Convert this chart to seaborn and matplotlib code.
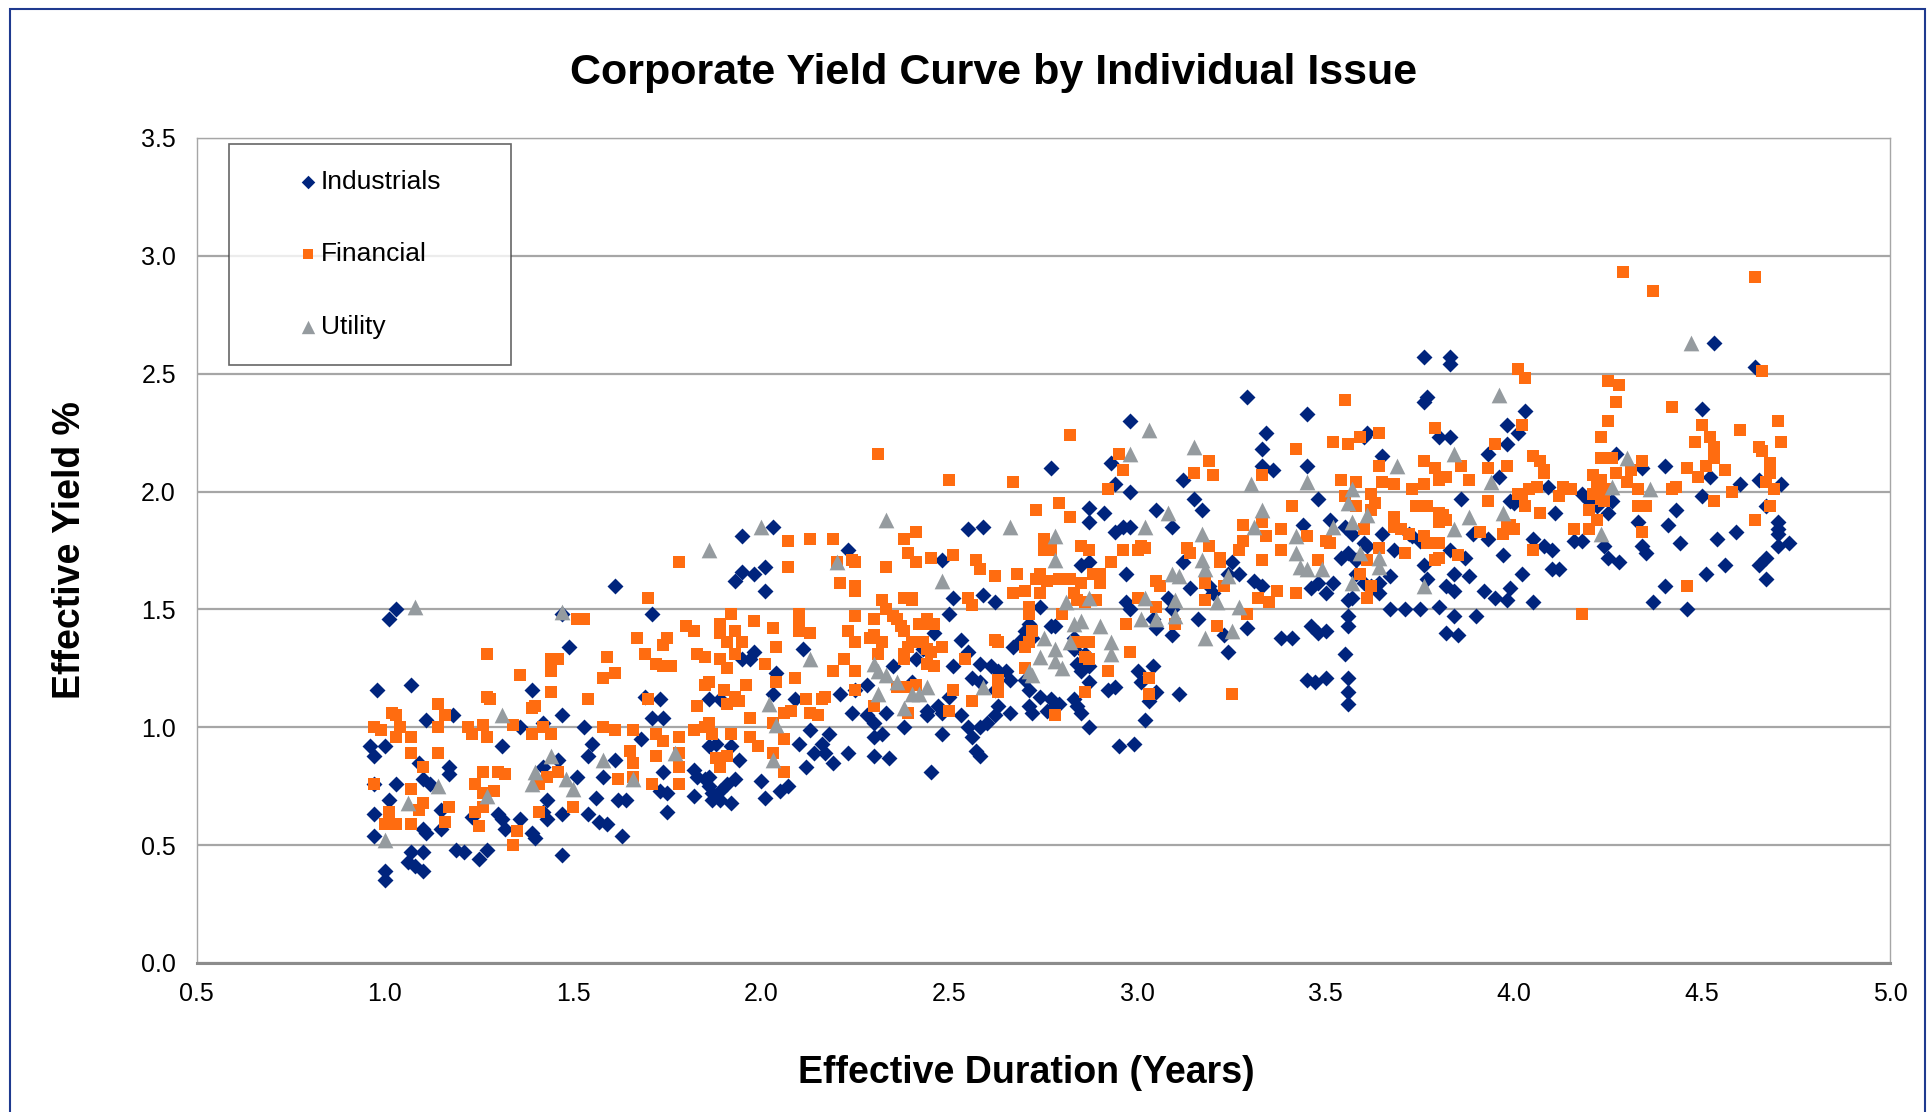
import matplotlib
matplotlib.use("Agg")
import matplotlib.pyplot as plt
import seaborn as sns
import pandas as pd
from matplotlib.patches import Rectangle

# (duration, yield) pairs per sector
ind_pts = [
    (1.03, 1.50), (1.01, 1.46), (0.98, 1.16), (1.07, 1.18), (1.11, 1.03), (1.18, 1.05), (0.96, 0.92),
    (0.97, 0.88), (1.00, 0.92), (1.03, 0.76), (0.97, 0.76), (1.01, 0.69), (0.97, 0.63), (0.97, 0.54),
    (1.00, 0.39), (1.00, 0.35), (1.07, 0.47), (1.06, 0.43), (1.10, 0.47), (1.08, 0.41), (1.10, 0.39),
    (1.10, 0.78), (1.12, 0.76), (1.09, 0.85), (1.17, 0.83), (1.17, 0.80), (1.10, 0.57), (1.11, 0.55),
    (1.15, 0.57), (1.15, 0.65), (1.19, 0.48), (1.21, 0.47), (1.25, 0.44), (1.27, 0.48), (1.23, 0.62),
    (1.31, 0.92), (1.30, 0.63), (1.31, 0.61), (1.32, 0.57), (1.36, 1.00), (1.36, 0.61), (1.39, 0.55),
    (1.40, 0.53), (1.42, 1.02), (1.39, 1.16), (1.47, 1.48), (1.49, 1.34), (1.47, 1.05), (1.47, 0.46),
    (1.43, 0.69), (1.42, 0.64), (1.43, 0.61), (1.42, 0.83), (1.46, 0.86), (1.51, 0.79), (1.47, 0.63),
    (1.53, 1.00), (1.55, 0.93), (1.54, 0.88), (1.54, 0.63), (1.57, 0.60), (1.59, 0.59), (1.56, 0.70),
    (1.58, 0.79), (1.61, 0.86), (1.62, 0.69), (1.64, 0.69), (1.63, 0.54), (1.61, 1.60), (1.71, 1.48),
    (1.68, 0.95), (1.69, 1.13), (1.73, 1.12), (1.71, 1.04), (1.74, 1.04), (1.74, 0.81), (1.73, 0.73),
    (1.75, 0.72), (1.75, 0.64), (1.82, 0.82), (1.82, 0.71), (1.83, 0.79), (1.85, 0.78), (1.86, 0.79),
    (1.86, 0.75), (1.87, 0.72), (1.89, 0.73), (1.87, 0.69), (1.89, 0.69), (1.92, 0.68), (1.91, 0.76),
    (1.93, 0.78), (1.86, 1.12), (1.89, 1.12), (1.86, 0.92), (1.88, 0.93), (1.92, 0.92), (1.94, 0.86),
    (1.95, 1.29), (1.97, 1.29), (1.98, 1.32), (1.95, 1.81), (1.95, 1.66), (1.93, 1.62), (1.98, 1.65),
    (2.00, 0.77), (2.03, 1.85), (2.01, 1.68), (2.01, 1.58), (2.11, 1.33), (2.04, 1.23), (2.03, 1.14),
    (2.09, 1.12), (2.23, 1.75), (2.21, 1.14), (2.13, 0.99), (2.18, 0.97), (2.16, 0.93), (2.10, 0.93),
    (2.17, 0.89), (2.14, 0.89), (2.12, 0.83), (2.19, 0.85), (2.23, 0.89), (2.01, 0.70), (2.05, 0.73),
    (2.07, 0.75), (2.30, 0.88), (2.34, 0.87), (2.25, 1.16), (2.28, 1.18), (2.24, 1.06), (2.28, 1.05),
    (2.30, 1.02), (2.32, 0.97), (2.30, 0.96), (2.38, 1.00), (2.33, 1.06), (2.35, 1.26), (2.40, 1.19),
    (2.41, 1.29), (2.43, 1.33), (2.46, 1.40), (2.44, 1.07), (2.47, 1.09), (2.44, 1.05), (2.48, 1.06),
    (2.50, 1.13), (2.48, 0.97), (2.45, 0.81), (2.51, 1.26), (2.50, 1.48), (2.51, 1.55), (2.53, 1.37),
    (2.55, 1.32), (2.56, 1.21), (2.58, 1.19), (2.58, 1.27), (2.55, 1.00), (2.56, 0.96), (2.57, 0.90),
    (2.58, 0.88), (2.53, 1.05), (2.55, 1.84), (2.59, 1.85), (2.48, 1.71), (2.59, 1.56), (2.62, 1.53),
    (2.61, 1.26), (2.63, 1.24), (2.66, 1.20), (2.65, 1.24), (2.62, 1.16), (2.63, 1.09), (2.62, 1.05),
    (2.66, 1.06), (2.60, 1.02), (2.58, 1.00), (2.71, 1.44), (2.70, 1.41), (2.69, 1.37), (2.67, 1.34),
    (2.72, 1.38), (2.70, 1.20), (2.71, 1.16), (2.74, 1.13), (2.71, 1.09), (2.72, 1.06), (2.76, 1.07),
    (2.74, 1.51), (2.77, 1.43), (2.78, 1.43), (2.77, 2.10), (2.87, 1.93), (2.87, 1.87), (2.91, 1.91),
    (2.94, 2.03), (2.93, 2.12), (2.98, 2.00), (2.96, 1.85), (2.94, 1.83), (2.98, 1.85), (2.85, 1.69),
    (2.87, 1.70), (2.97, 1.65), (2.83, 1.38), (2.83, 1.33), (2.86, 1.31), (2.84, 1.27), (2.87, 1.26),
    (2.85, 1.24), (2.87, 1.19), (2.83, 1.12), (2.84, 1.09), (2.85, 1.06), (2.87, 1.00), (2.92, 1.16),
    (2.94, 1.17), (2.95, 0.92), (2.97, 1.53), (2.98, 1.50), (2.99, 0.93), (2.77, 1.12), (2.78, 1.09),
    (2.79, 1.10), (2.98, 2.30), (3.05, 1.92), (3.09, 1.85), (3.12, 2.05), (3.15, 1.97), (3.17, 1.92),
    (3.29, 2.40), (3.34, 2.25), (3.33, 2.18), (3.33, 2.11), (3.36, 2.09), (3.45, 2.33), (3.45, 2.11),
    (3.48, 1.97), (3.44, 1.86), (3.51, 1.88), (3.55, 1.85), (3.57, 1.82), (3.61, 2.25), (3.60, 2.23),
    (3.65, 2.15), (3.76, 2.38), (3.77, 2.40), (3.80, 2.23), (3.83, 2.23), (3.93, 2.16), (3.96, 2.06),
    (3.86, 1.97), (3.89, 1.82), (3.93, 1.80), (3.83, 1.75), (3.87, 1.72), (3.84, 1.65), (3.82, 1.60),
    (3.84, 1.58), (3.88, 1.64), (3.92, 1.58), (3.95, 1.55), (3.76, 1.69), (3.77, 1.63), (3.75, 1.50),
    (3.80, 1.51), (3.84, 1.47), (3.90, 1.47), (3.82, 1.40), (3.85, 1.39), (3.67, 1.50), (3.71, 1.50),
    (3.65, 1.82), (3.67, 1.64), (3.68, 1.75), (3.72, 1.82), (3.73, 1.81), (3.75, 1.79), (3.56, 1.74),
    (3.58, 1.71), (3.54, 1.72), (3.60, 1.78), (3.61, 1.77), (3.58, 1.65), (3.60, 1.61), (3.62, 1.60),
    (3.64, 1.57), (3.64, 1.61), (3.57, 1.55), (3.56, 1.54), (3.56, 1.47), (3.56, 1.43), (3.55, 1.31),
    (3.56, 1.21), (3.56, 1.15), (3.56, 1.10), (3.46, 1.43), (3.48, 1.40), (3.50, 1.41), (3.45, 1.20),
    (3.47, 1.19), (3.50, 1.21), (3.46, 1.59), (3.48, 1.61), (3.52, 1.61), (3.50, 1.57), (3.38, 1.38),
    (3.41, 1.38), (3.31, 1.62), (3.33, 1.60), (3.29, 1.42), (3.24, 1.65), (3.27, 1.65), (3.25, 1.70),
    (3.19, 1.60), (3.20, 1.57), (3.23, 1.39), (3.24, 1.32), (3.14, 1.59), (3.16, 1.46), (3.09, 1.39),
    (3.12, 1.70), (3.08, 1.55), (3.09, 1.50), (3.04, 1.46), (3.11, 1.14), (3.05, 1.42), (3.00, 1.24),
    (3.04, 1.26), (3.01, 1.19), (3.05, 1.15), (3.03, 1.11), (3.02, 1.03), (3.76, 2.57), (3.83, 2.54),
    (3.83, 2.57), (4.53, 2.63), (4.64, 2.53), (4.03, 2.34), (3.98, 2.28), (4.01, 2.25), (3.98, 2.20),
    (4.09, 2.02), (3.99, 1.96), (4.00, 1.95), (4.11, 1.91), (4.18, 1.99), (4.27, 2.16), (4.34, 2.10),
    (4.26, 1.96), (4.25, 1.91), (4.20, 1.96), (4.22, 1.94), (4.05, 1.80), (4.08, 1.77), (4.10, 1.75),
    (4.16, 1.79), (4.18, 1.79), (3.97, 1.73), (4.02, 1.65), (3.98, 1.54), (3.99, 1.59), (4.05, 1.53),
    (4.10, 1.67), (4.12, 1.67), (4.24, 1.77), (4.25, 1.72), (4.28, 1.70), (4.33, 1.87), (4.34, 1.77),
    (4.35, 1.74), (4.40, 2.11), (4.43, 1.92), (4.41, 1.86), (4.44, 1.78), (4.40, 1.60), (4.37, 1.53),
    (4.46, 1.50), (4.50, 2.35), (4.50, 1.98), (4.52, 2.06), (4.51, 1.65), (4.56, 1.69), (4.54, 1.80),
    (4.59, 1.83), (4.60, 2.03), (4.65, 2.05), (4.67, 1.94), (4.71, 2.03), (4.70, 1.87), (4.70, 1.84),
    (4.70, 1.82), (4.73, 1.78), (4.70, 1.77), (4.67, 1.72), (4.65, 1.69), (4.67, 1.63),
]

fin_pts = [
    (0.97, 0.76), (0.97, 1.00), (0.99, 0.99), (1.02, 1.06), (1.03, 1.05), (1.03, 0.96), (1.04, 1.00),
    (1.07, 0.96), (1.07, 0.89), (1.01, 0.64), (1.00, 0.59), (1.03, 0.59), (1.07, 0.59), (1.07, 0.74),
    (1.10, 0.83), (1.10, 0.68), (1.09, 0.65), (1.14, 1.10), (1.16, 1.05), (1.14, 1.00), (1.14, 0.89),
    (1.16, 0.60), (1.17, 0.66), (1.22, 1.00), (1.23, 0.97), (1.26, 1.01), (1.27, 0.96), (1.27, 1.31),
    (1.27, 1.13), (1.28, 1.12), (1.24, 0.76), (1.26, 0.81), (1.30, 0.81), (1.32, 0.80), (1.29, 0.73),
    (1.26, 0.72), (1.24, 0.64), (1.26, 0.66), (1.25, 0.58), (1.34, 1.01), (1.35, 0.56), (1.34, 0.50),
    (1.36, 1.22), (1.39, 1.08), (1.40, 1.09), (1.39, 0.97), (1.42, 1.00), (1.44, 0.97), (1.44, 1.29),
    (1.46, 1.29), (1.44, 1.24), (1.44, 1.15), (1.41, 0.76), (1.43, 0.79), (1.46, 0.81), (1.41, 0.64),
    (1.50, 0.66), (1.51, 1.46), (1.53, 1.46), (1.54, 1.12), (1.58, 1.21), (1.61, 1.23), (1.59, 1.30),
    (1.58, 1.00), (1.61, 0.99), (1.66, 0.99), (1.65, 0.90), (1.66, 0.85), (1.62, 0.78), (1.66, 0.79),
    (1.67, 1.38), (1.69, 1.31), (1.72, 1.27), (1.74, 1.26), (1.76, 1.26), (1.70, 1.55), (1.74, 1.35),
    (1.75, 1.38), (1.70, 1.12), (1.72, 0.97), (1.74, 0.94), (1.78, 0.96), (1.72, 0.88), (1.71, 0.76),
    (1.78, 0.89), (1.78, 0.83), (1.78, 0.76), (1.80, 1.43), (1.82, 1.41), (1.83, 1.31), (1.85, 1.30),
    (1.86, 1.19), (1.85, 1.18), (1.89, 1.44), (1.92, 1.48), (1.89, 1.40), (1.91, 1.36), (1.93, 1.41),
    (1.95, 1.36), (1.89, 1.29), (1.91, 1.25), (1.93, 1.31), (1.90, 1.16), (1.91, 1.10), (1.93, 1.13),
    (1.94, 1.11), (1.96, 1.18), (1.83, 1.09), (1.86, 1.02), (1.87, 0.97), (1.92, 0.97), (1.82, 0.99),
    (1.85, 1.00), (1.88, 0.87), (1.91, 0.88), (1.89, 0.83), (1.97, 1.04), (1.97, 0.96), (1.99, 0.92),
    (1.98, 1.45), (1.78, 1.70), (2.31, 2.16), (2.50, 2.05), (2.67, 2.04), (2.82, 2.24), (2.07, 1.79),
    (2.13, 1.80), (2.19, 1.80), (2.07, 1.68), (2.20, 1.70), (2.24, 1.71), (2.25, 1.70), (2.21, 1.61),
    (2.25, 1.60), (2.25, 1.58), (2.33, 1.68), (2.38, 1.80), (2.41, 1.83), (2.39, 1.74), (2.41, 1.70),
    (2.45, 1.72), (2.51, 1.73), (2.57, 1.71), (2.58, 1.67), (2.62, 1.64), (2.68, 1.65), (2.67, 1.57),
    (2.73, 1.92), (2.79, 1.95), (2.82, 1.89), (2.92, 2.01), (2.95, 2.16), (2.96, 2.09), (2.75, 1.80),
    (2.75, 1.75), (2.77, 1.75), (2.85, 1.77), (2.87, 1.75), (2.96, 1.75), (3.00, 1.75), (2.93, 1.70),
    (2.74, 1.65), (2.73, 1.63), (2.76, 1.62), (2.79, 1.63), (2.82, 1.63), (2.85, 1.61), (2.88, 1.65),
    (2.90, 1.65), (2.90, 1.61), (2.89, 1.54), (2.70, 1.58), (2.71, 1.51), (2.71, 1.48), (2.74, 1.57),
    (2.80, 1.48), (2.83, 1.57), (2.84, 1.54), (2.86, 1.53), (2.87, 1.36), (2.86, 1.30), (2.87, 1.29),
    (2.84, 1.36), (2.97, 1.44), (2.98, 1.32), (2.92, 1.24), (2.86, 1.15), (2.78, 1.05), (2.71, 1.36),
    (2.70, 1.34), (2.72, 1.41), (2.62, 1.37), (2.63, 1.36), (2.70, 1.25), (2.63, 1.20), (2.63, 1.15),
    (2.55, 1.55), (2.56, 1.52), (2.54, 1.29), (2.56, 1.11), (2.51, 1.16), (2.50, 1.07), (2.48, 1.34),
    (2.44, 1.46), (2.45, 1.44), (2.46, 1.44), (2.42, 1.44), (2.38, 1.55), (2.40, 1.55), (2.37, 1.43),
    (2.38, 1.41), (2.39, 1.34), (2.40, 1.36), (2.43, 1.36), (2.44, 1.33), (2.32, 1.54), (2.33, 1.50),
    (2.30, 1.46), (2.30, 1.39), (2.29, 1.38), (2.32, 1.36), (2.31, 1.31), (2.35, 1.47), (2.36, 1.46),
    (2.40, 1.54), (2.44, 1.27), (2.46, 1.26), (2.45, 1.32), (2.38, 1.31), (2.38, 1.29), (2.36, 1.17),
    (2.39, 1.17), (2.41, 1.18), (2.39, 1.06), (2.30, 1.09), (2.25, 1.36), (2.25, 1.47), (2.23, 1.41),
    (2.19, 1.24), (2.22, 1.29), (2.25, 1.24), (2.25, 1.16), (2.10, 1.48), (2.10, 1.41), (2.13, 1.40),
    (2.10, 1.46), (2.03, 1.42), (2.04, 1.34), (2.01, 1.27), (2.09, 1.21), (2.04, 1.19), (2.12, 1.12),
    (2.16, 1.12), (2.17, 1.13), (2.06, 1.06), (2.08, 1.07), (2.13, 1.06), (2.15, 1.05), (2.03, 1.02),
    (2.06, 0.95), (2.03, 0.89), (2.06, 0.81), (3.55, 2.39), (3.79, 2.27), (3.52, 2.21), (3.56, 2.20),
    (3.59, 2.23), (3.64, 2.25), (3.42, 2.18), (3.33, 2.07), (3.19, 2.13), (3.20, 2.07), (3.15, 2.08),
    (3.64, 2.11), (3.76, 2.13), (3.79, 2.10), (3.80, 2.05), (3.82, 2.06), (3.86, 2.11), (3.88, 2.05),
    (3.93, 2.10), (3.95, 2.20), (3.54, 2.05), (3.58, 2.04), (3.65, 2.04), (3.68, 2.03), (3.73, 2.01),
    (3.76, 2.03), (3.55, 1.98), (3.58, 1.94), (3.62, 1.99), (3.63, 1.95), (3.62, 1.92), (3.74, 1.94),
    (3.77, 1.94), (3.80, 1.91), (3.81, 1.90), (3.82, 1.88), (3.80, 1.87), (3.93, 1.96), (3.68, 1.89),
    (3.68, 1.85), (3.70, 1.84), (3.72, 1.82), (3.91, 1.83), (3.76, 1.81), (3.77, 1.78), (3.80, 1.78),
    (3.79, 1.71), (3.80, 1.72), (3.85, 1.73), (3.41, 1.94), (3.28, 1.86), (3.33, 1.87), (3.28, 1.79),
    (3.34, 1.81), (3.27, 1.75), (3.38, 1.84), (3.38, 1.75), (3.33, 1.71), (3.45, 1.81), (3.50, 1.79),
    (3.51, 1.78), (3.60, 1.84), (3.64, 1.76), (3.61, 1.71), (3.59, 1.65), (3.62, 1.60), (3.61, 1.55),
    (3.71, 1.74), (3.48, 1.71), (3.42, 1.57), (3.37, 1.58), (3.32, 1.55), (3.35, 1.53), (3.29, 1.48),
    (3.23, 1.60), (3.18, 1.61), (3.18, 1.54), (3.21, 1.43), (3.13, 1.76), (3.14, 1.74), (3.19, 1.77),
    (3.22, 1.70), (3.22, 1.72), (3.01, 1.77), (3.02, 1.76), (3.05, 1.62), (3.06, 1.60), (3.00, 1.55),
    (3.05, 1.51), (3.10, 1.44), (3.03, 1.21), (3.03, 1.14), (3.25, 1.14), (4.29, 2.93), (4.37, 2.85),
    (4.64, 2.91), (4.01, 2.52), (4.03, 2.48), (4.66, 2.51), (4.25, 2.47), (4.28, 2.45), (4.27, 2.38),
    (4.42, 2.36), (4.25, 2.30), (4.23, 2.23), (4.02, 2.28), (4.50, 2.28), (4.52, 2.23), (4.53, 2.19),
    (4.53, 2.14), (4.48, 2.21), (4.60, 2.26), (4.70, 2.30), (4.71, 2.21), (4.65, 2.19), (4.66, 2.17),
    (4.68, 2.12), (4.68, 2.08), (4.67, 2.04), (4.69, 2.01), (4.68, 1.94), (4.64, 1.88), (4.58, 2.00),
    (4.56, 2.09), (4.46, 2.10), (4.49, 2.06), (4.51, 2.11), (4.53, 1.96), (4.42, 2.01), (4.43, 2.02),
    (4.23, 2.14), (4.25, 2.14), (4.26, 2.14), (4.21, 2.07), (4.23, 2.05), (4.22, 2.02), (4.25, 2.01),
    (4.27, 2.08), (4.30, 2.04), (4.33, 2.01), (4.31, 2.09), (4.34, 2.13), (4.33, 1.94), (4.35, 1.94),
    (4.21, 1.99), (4.23, 1.97), (4.24, 1.96), (4.20, 1.92), (4.22, 1.88), (4.20, 1.84), (4.16, 1.84),
    (4.34, 1.83), (4.13, 2.02), (4.15, 2.01), (4.12, 1.98), (4.05, 2.15), (4.07, 2.13), (4.08, 2.09),
    (4.08, 2.08), (4.02, 1.99), (4.04, 2.01), (4.06, 2.02), (4.03, 1.94), (4.01, 1.99), (4.07, 1.91),
    (3.98, 2.11), (3.98, 1.85), (3.99, 1.86), (4.00, 1.84), (3.97, 1.82), (4.05, 1.75), (4.18, 1.48),
    (4.46, 1.60),
]

util_pts = [
    (1.08, 1.51), (1.47, 1.49), (1.86, 1.75), (1.31, 1.05), (1.44, 0.88), (1.40, 0.81), (1.39, 0.76),
    (1.48, 0.78), (1.50, 0.74), (1.58, 0.86), (1.66, 0.78), (1.77, 0.89), (1.14, 0.75), (1.06, 0.68),
    (1.27, 0.71), (1.00, 0.52), (2.00, 1.85), (2.33, 1.88), (2.66, 1.85), (2.20, 1.70), (2.78, 1.81),
    (2.78, 1.71), (2.48, 1.62), (2.13, 1.29), (2.81, 1.53), (2.87, 1.55), (2.83, 1.44), (2.85, 1.45),
    (2.90, 1.43), (2.75, 1.38), (2.78, 1.33), (2.82, 1.36), (2.93, 1.36), (2.93, 1.31), (2.74, 1.30),
    (2.71, 1.24), (2.72, 1.22), (2.78, 1.28), (2.80, 1.25), (2.30, 1.27), (2.31, 1.24), (2.33, 1.22),
    (2.36, 1.19), (2.40, 1.14), (2.42, 1.14), (2.44, 1.17), (2.31, 1.14), (2.38, 1.08), (2.59, 1.17),
    (2.02, 1.10), (2.04, 1.01), (2.03, 0.86), (2.98, 2.16), (3.03, 2.26), (3.15, 2.19), (3.30, 2.03),
    (3.45, 2.04), (3.57, 2.01), (3.56, 1.95), (3.69, 2.11), (3.84, 2.16), (3.94, 2.04), (3.88, 1.89),
    (3.84, 1.84), (3.08, 1.91), (3.02, 1.85), (3.33, 1.92), (3.31, 1.85), (3.17, 1.82), (3.17, 1.71),
    (3.18, 1.67), (3.09, 1.65), (3.11, 1.64), (3.24, 1.64), (3.42, 1.81), (3.42, 1.74), (3.43, 1.68),
    (3.45, 1.67), (3.49, 1.67), (3.52, 1.85), (3.57, 1.87), (3.61, 1.90), (3.59, 1.74), (3.64, 1.72),
    (3.64, 1.68), (3.57, 1.61), (3.76, 1.60), (3.02, 1.55), (3.05, 1.46), (3.01, 1.46), (3.10, 1.54),
    (3.10, 1.47), (3.21, 1.53), (3.27, 1.51), (3.25, 1.41), (3.18, 1.38), (4.47, 2.63), (3.96, 2.41),
    (3.97, 1.91), (4.30, 2.14), (4.26, 2.02), (4.36, 2.01), (4.23, 1.82),
]

sectors = ["Industrials", "Financial", "Utility"]
colors = {"Industrials": "#00247D", "Financial": "#FF6C10", "Utility": "#959B9F"}
markers = {"Industrials": "D", "Financial": "s", "Utility": "^"}
sizes = {"Industrials": 66, "Financial": 85, "Utility": 128}

df = pd.concat([
    pd.DataFrame(pts, columns=["Duration", "Yield"]).assign(Sector=name)
    for name, pts in zip(sectors, [ind_pts, fin_pts, util_pts])
], ignore_index=True)

sns.set_theme(style="white")
plt.rcParams["font.family"] = ["Liberation Sans", "DejaVu Sans"]
plt.rcParams["text.color"] = "black"
plt.rcParams["axes.labelcolor"] = "black"

fig = plt.figure(figsize=(19.29, 11.12), dpi=100)
ax = fig.add_axes([0.102, 0.134, 0.878, 0.742])

for name in sectors:
    sns.scatterplot(data=df[df.Sector == name], x="Duration", y="Yield",
                    color=colors[name], marker=markers[name], s=sizes[name],
                    linewidth=0, label=name, ax=ax, zorder=3)

ax.set_xlim(0.5, 5.0)
ax.set_ylim(0.0, 3.5)
ax.set_xticks([0.5 + 0.5 * i for i in range(10)])
ax.set_yticks([0.5 * i for i in range(8)])
ax.xaxis.set_major_formatter(plt.FormatStrFormatter("%.1f"))
ax.yaxis.set_major_formatter(plt.FormatStrFormatter("%.1f"))
ax.tick_params(axis="both", labelsize=18, colors="#8C8C8C", labelcolor="black",
               length=7, width=1, direction="out")
ax.tick_params(axis="x", pad=7)
ax.tick_params(axis="y", pad=8)
ax.grid(axis="y", color="#A6A6A6", linewidth=1.6)
ax.set_axisbelow(True)
for side in ["left", "right", "top"]:
    ax.spines[side].set_color("#A6A6A6")
    ax.spines[side].set_linewidth(1.0)
ax.spines["bottom"].set_color("#8C8C8C")
ax.spines["bottom"].set_linewidth(2.2)

ax.set_xlabel("Effective Duration (Years)", fontsize=27, fontweight="bold")
ax.set_ylabel("Effective Yield %", fontsize=27, fontweight="bold")
ax.xaxis.set_label_coords(0.49, -0.112)
ax.yaxis.set_label_coords(-0.064, 0.5)

fig.text(0.515, 0.9245, "Corporate Yield Curve by Individual Issue",
         ha="center", va="baseline", fontsize=31, fontweight="bold")

leg = ax.legend(loc="upper left", bbox_to_anchor=(0.0189, 0.9927, 0.1666, 0),
                mode="expand", fontsize=19, frameon=True, fancybox=False,
                borderpad=0.98, labelspacing=1.84, handlelength=4.05,
                handletextpad=-1.55, scatterpoints=1, borderaxespad=0,
                markerscale=0.85)
leg.get_frame().set_edgecolor("#404040")
leg.get_frame().set_linewidth(1.2)

# outer chart border
fig.patches.append(Rectangle((10 / 1929, -0.1), 1915 / 1929, 1.1 - 9 / 1112,
                             transform=fig.transFigure, fill=False,
                             edgecolor="#1F3A8F", linewidth=1.5))

fig.savefig("out.png", dpi=100)
